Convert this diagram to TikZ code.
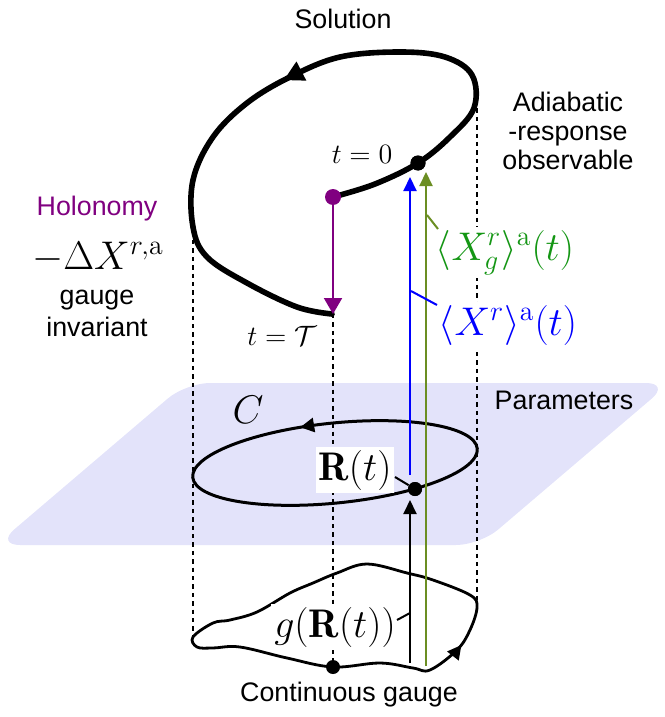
\RequirePackage{fix-cm}
\documentclass[tikz,border=0pt]{standalone}
\usepackage{fontspec}
\setsansfont{Liberation Sans}
\usetikzlibrary{arrows.meta,decorations.markings}

\definecolor{planecol}{RGB}{227,227,250}
\definecolor{holopurple}{RGB}{128,0,128}
\definecolor{gaugeolive}{RGB}{107,142,35}
\definecolor{gaugegreen}{RGB}{20,150,20}

\begin{document}
\begin{tikzpicture}[x=0.5pt,y=-0.5pt,
    txt/.style={font=\sffamily\fontsize{13.4}{14.5}\selectfont},
    bigmath/.style={font=\fontsize{20}{24}\selectfont},
    smallmath/.style={font=\fontsize{14}{16}\selectfont},
    cover/.style={fill=white,inner sep=1.5pt},
    dot/.style={circle,fill,inner sep=0pt,minimum size=7.5pt},
    proj/.style={line width=1.4pt,dash pattern=on 2.2pt off 2pt},
    thintip/.style={-{Triangle[length=7pt,width=6.5pt]}},
    midarrow/.style={postaction={decorate},
      decoration={markings,mark=at position #1 with {\arrow{Triangle[length=7pt,width=7pt]}}}},
    midarrowrev/.style={postaction={decorate},
      decoration={markings,mark=at position #1 with {\arrowreversed{Triangle[length=7pt,width=7pt]}}}}]

\useasboundingbox (0,0) rectangle (664,717);

% Parameter plane
\fill[planecol,rounded corners=12pt] (-4,545) -- (480,545) -- (670,383) -- (186,383) -- cycle;

% Points
\coordinate (c0) at (418,163);
\coordinate (cholo) at (333,197);
\coordinate (cR) at (415,489);
\coordinate (cg) at (333,667);
\coordinate (tT) at (333,314);

% Projection lines
\coordinate (lefttop) at (193,240);
\coordinate (leftbot) at (193,637);
\coordinate (righttop) at (477,100);
\coordinate (rightbot) at (477,607);
\draw[proj] (lefttop) -- (leftbot);
\draw[proj] (tT) -- (cg);
\draw[proj] (righttop) -- (rightbot);

% Loop C in parameter space
\draw[line width=1.5pt,shift={(335,463)},rotate=5.8,midarrowrev=0.7]
    (0,0) ellipse [x radius=143,y radius=40];

% Continuous gauge
\draw[line width=1.4pt,midarrow=0.43] plot[smooth cycle,tension=0.6] coordinates {
    (193,637) (197,647) (213,648) (240,647) (287,658) (333,667) (380,663)
    (413,668) (430,670) (457,650) (470,630) (477,607) (470,595) (433,580)
    (407,573) (367,564) (337,573) (313,583) (290,593) (257,612) (230,620)
    (213,623)};

% Solution
\draw[line width=2.8pt,line cap=round,
    postaction={decorate},
    decoration={markings,mark=at position 0.53 with {\arrow{Triangle[length=10pt,width=10pt]}}}]
    plot[smooth,tension=0.6] coordinates {
    (333,197) (375,184) (418,163) (450,137) (474,108) (472,75) (445,57)
    (400,52) (340,57) (290,77) (247,103) (213,137) (193,180) (193,227)
    (207,257) (247,283) (297,307) (332,314)};

% Dots
\node[dot] (p0) at (c0) {};
\node[dot,fill=holopurple,minimum size=8pt] (holo) at (cholo) {};
\node[dot,minimum size=7pt] (pR) at (cR) {};
\node[dot,minimum size=7pt] (pg) at (cg) {};

% Holonomy
\draw[holopurple,line width=1pt,-{Triangle[length=8pt,width=9pt]}] (holo) -- (tT);

% Labels
\node[txt,anchor=base] (solution) at (343,29) {Solution};
\node[txt,align=center] (adiab) at (568,131) {Adiabatic\\-response\\observable};
\node[txt,anchor=base,text=holopurple] (holonomy) at (97,215) {Holonomy};
\node[bigmath,anchor=base] (dX) at (98,269) {$-\Delta X^{r,\mathrm{a}}$};
\node[txt,anchor=base] (gauge) at (97,304) {gauge};
\node[txt,anchor=base] (invariant) at (97,336) {invariant};
\node[smallmath,anchor=base] (tzero) at (362,163) {$t=0$};
\node[smallmath,anchor=base] (tend) at (282,345) {$t=\mathcal{T}$};
\node[bigmath,cover,anchor=base,text=gaugegreen] (Xg) at (505,260) {$\langle X^r_g\rangle^{\mathrm{a}}(t)$};
\node[bigmath,cover,anchor=base,text=blue] (Xr) at (508,335) {$\langle X^r\rangle^{\mathrm{a}}(t)$};
\node[txt,anchor=base] (params) at (564,409) {Parameters};
\node[bigmath,anchor=base] (C) at (248,423) {$C$};
\node[bigmath,cover,anchor=base] (Rt) at (355,480) {$\mathbf{R}(t)$};
\node[bigmath,cover,anchor=base] (gR) at (335,637) {$g(\mathbf{R}(t))$};
\node[txt,anchor=base] (contg) at (349,701) {Continuous gauge};

% Observables
\coordinate (gs) at (410,663);
\coordinate (ge) at (410,500);
\coordinate (bs) at (410,475);
\coordinate (be) at (410,177);
\coordinate (os) at (426,666);
\coordinate (oe) at (426,172);
\draw[line width=1pt,thintip] (gs) -- (ge);
\draw[blue,line width=1pt,thintip] (bs) -- (be);
\draw[gaugeolive,line width=1pt,thintip] (os) -- (oe);
\node[dot] at (p0) {};
\node[dot,minimum size=7pt] at (pR) {};

% Leaders
\coordinate (xgl) at (427,215);
\coordinate (xgr) at (438,229);
\coordinate (xrl) at (411,291);
\coordinate (xrr) at (437,305);
\coordinate (rtl) at (395,477);
\coordinate (grl) at (397,620);
\coordinate (grr) at (410,613);
\draw[gaugeolive,line width=1pt] (xgl) -- (xgr);
\draw[blue,line width=1pt] (xrl) -- (xrr);
\draw[line width=1pt] (rtl) -- (pR);
\draw[line width=1pt] (grl) -- (grr);

\end{tikzpicture}
\end{document}
